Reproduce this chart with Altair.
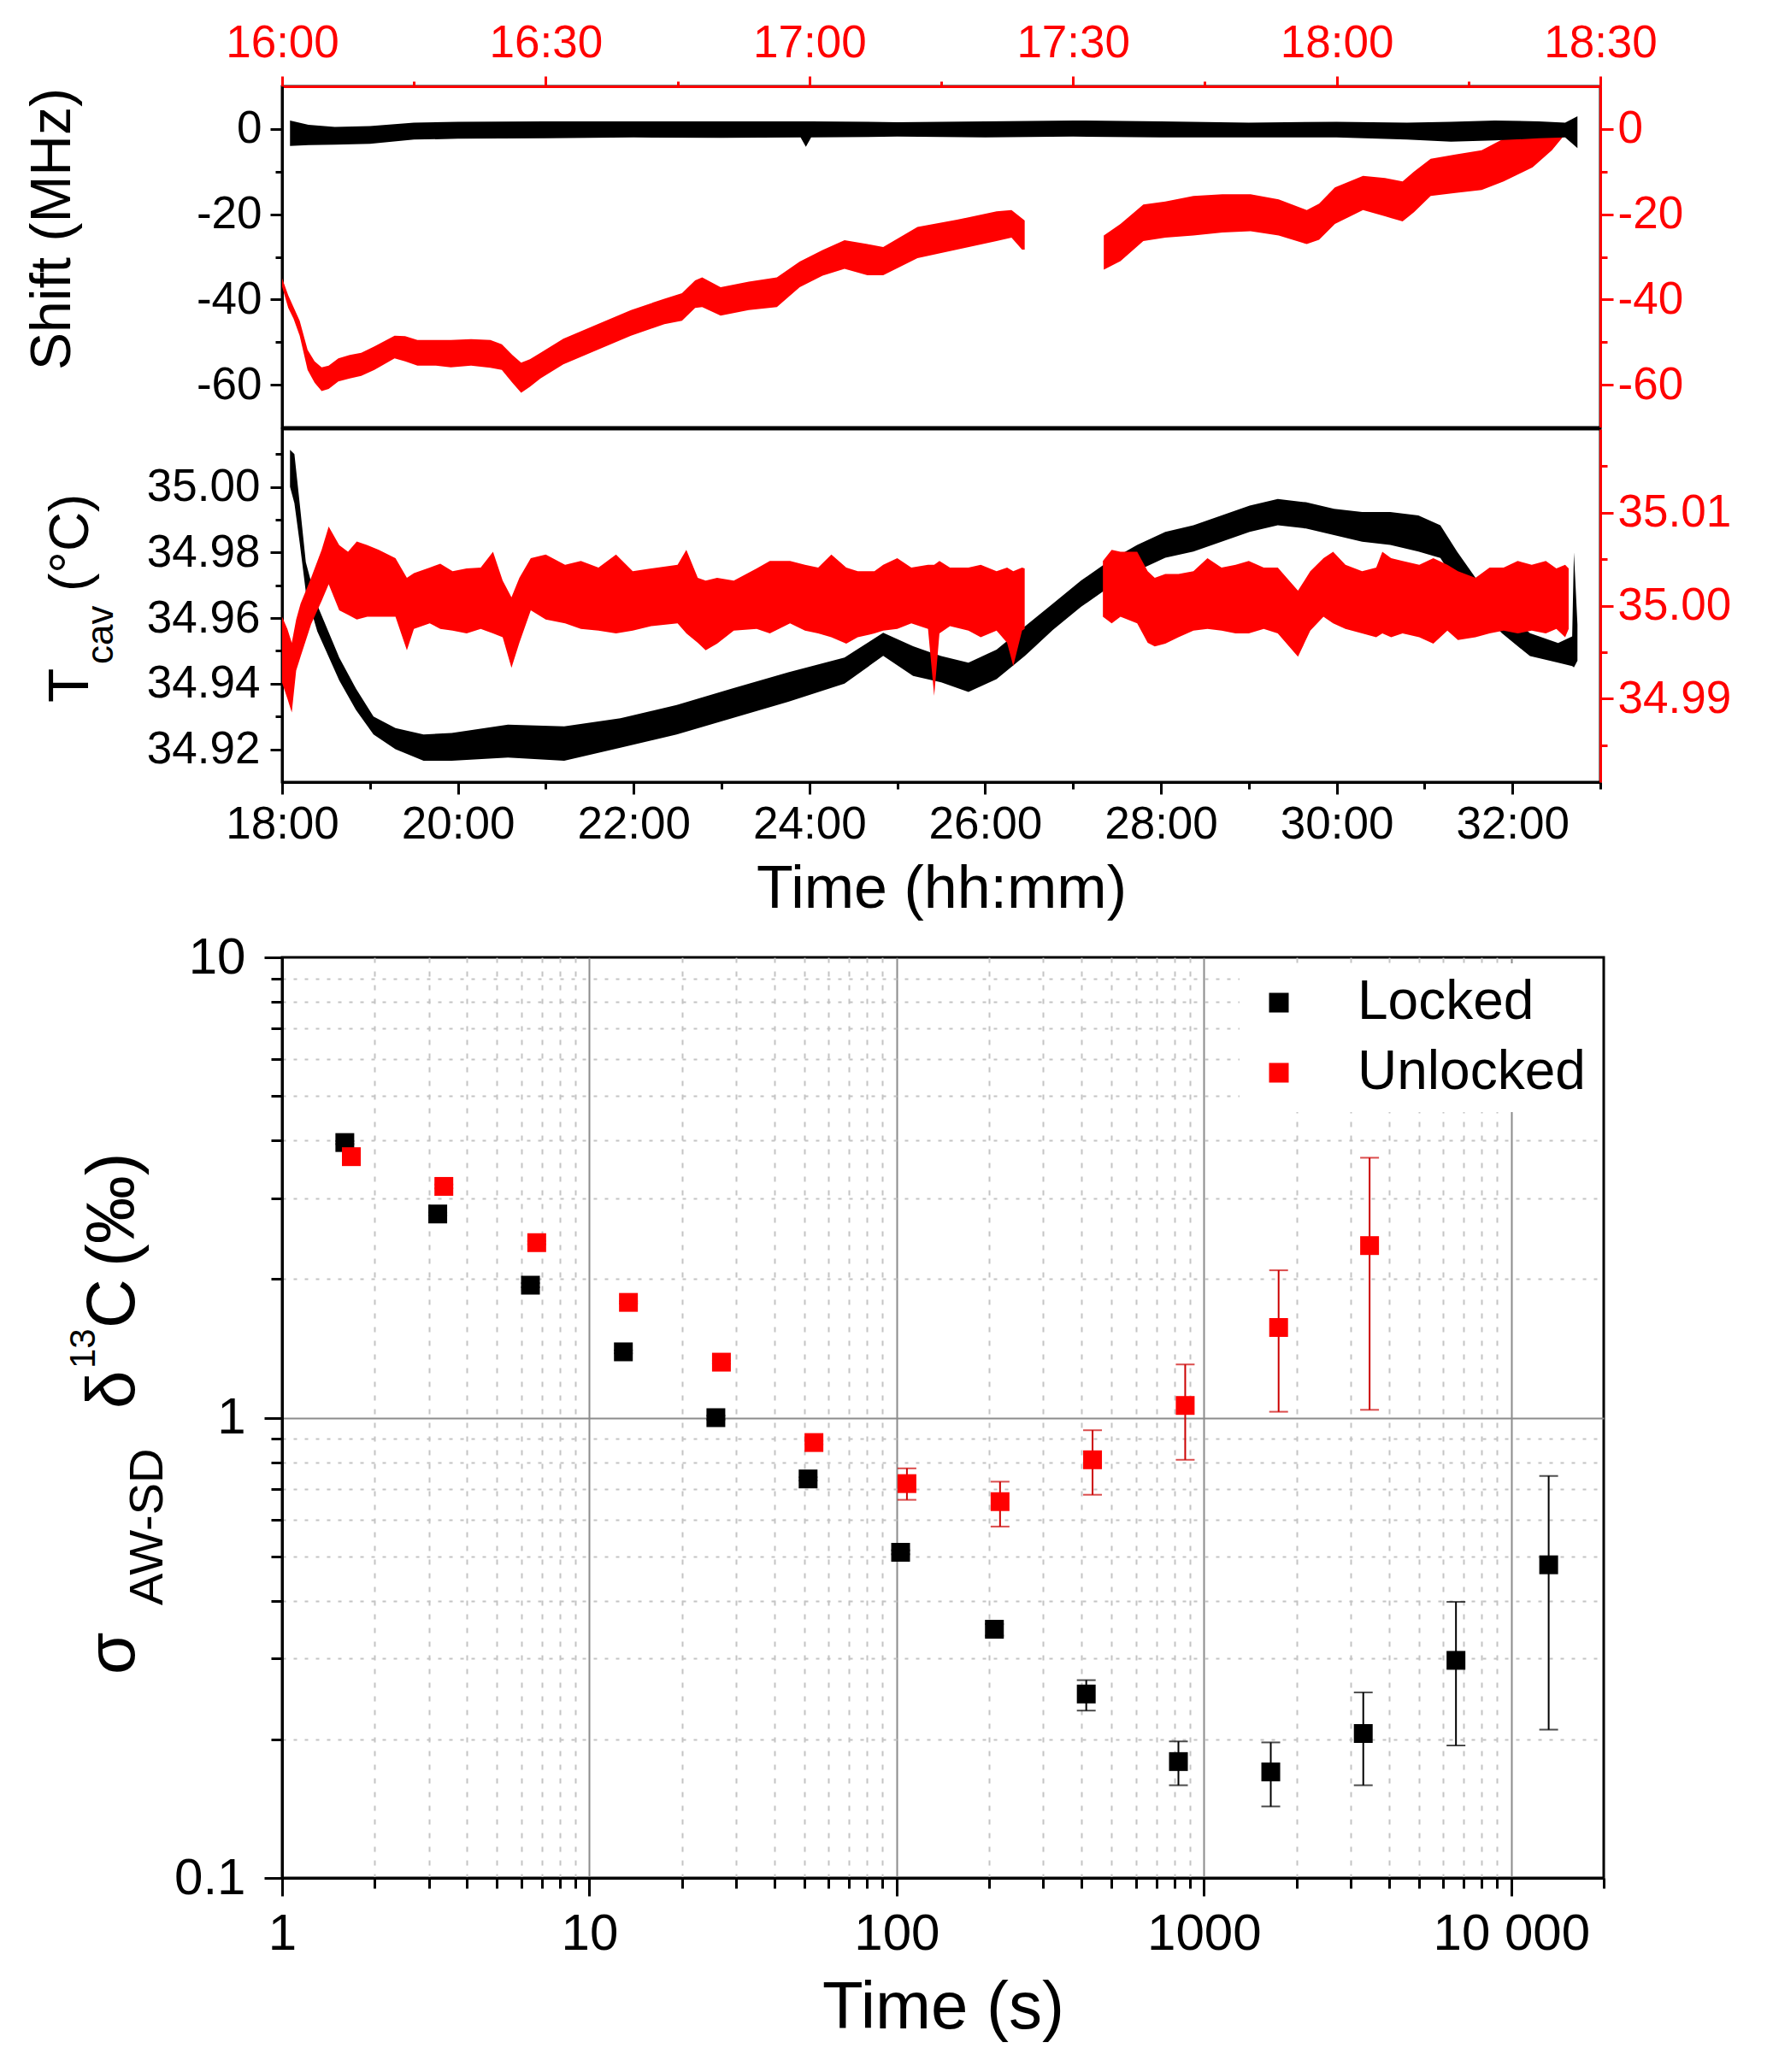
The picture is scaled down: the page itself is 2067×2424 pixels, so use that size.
import altair as alt
import pandas as pd

FONT = "Liberation Sans, Arial, sans-serif"
RED = "#ff0000"
RED_BAR = "#cc0000"

# ---------------- top panel: frequency shift (MHz) ----------------
# unlocked run (red): minutes after 16:00 on the red clock axis, band envelope
SHIFT_RED_A_MIN = [0, 0.7, 1.3, 2.0, 2.9, 3.7, 4.5, 5.3, 6.4, 7.7, 9.0, 10.5, 12.8, 14.0, 15.4,
                   17.5, 19.2, 21.5, 23.7, 25.0, 26.2, 27.2, 28.2, 29.4, 32.0, 35.9, 39.7, 43.5,
                   45.5, 47.0, 47.8, 49.9, 53.1, 56.3, 58.9, 61.5, 64.0, 66.6, 68.4, 72.3, 76.8,
                   81.3, 83.0, 84.2, 84.5]
SHIFT_RED_A_HI = [-35, -39, -41.8, -45, -51.8, -54.5, -55.9, -55.5, -53.8, -53, -52.5, -51,
                  -48.5, -48.6, -49.5, -49.5, -49.5, -49.3, -49.5, -50.5, -53, -54.8, -54, -52.5,
                  -49.2, -45.8, -42.5, -39.8, -38.5, -35.5, -34.8, -37.1, -35.8, -34.8, -31.1,
                  -28.4, -26.1, -27, -27.7, -23, -21.3, -19.3, -19, -21, -21.5]
SHIFT_RED_A_LO = [-37, -42, -44.5, -48.5, -56.5, -59.5, -61.5, -61, -59.2, -58.5, -57.9, -56.5,
                  -53.8, -54.5, -55.5, -55.5, -55.9, -55.5, -56, -56.5, -59.5, -61.9, -60.5,
                  -58.5, -55.2, -51.8, -48.5, -45.8, -45, -42, -41.8, -43.8, -42.5, -41.8, -37.1,
                  -34.4, -32.8, -34.3, -34.3, -30.3, -28.3, -26.3, -25.5, -28.3, -28.3]
SHIFT_RED_B_MIN = [93.5, 95.4, 98.0, 100.5, 103.7, 107.0, 110.2, 113.4, 116.6, 118.0, 119.8,
                   123.0, 125.5, 127.5, 128.8, 130.7, 133.5, 136.5, 139.0, 142.3, 144.5, 146.1]
SHIFT_RED_B_HI = [-25, -22.3, -17.7, -17, -15.7, -15.3, -15.3, -16.5, -19, -17.5, -13.7, -11,
                  -11.5, -12.3, -10, -7, -6, -5, -2.3, 0, 0, 0]
SHIFT_RED_B_LO = [-33, -31, -26.3, -25.5, -25, -24.3, -24, -25, -27, -26, -22.3, -19, -20.5,
                  -21.7, -19.5, -15.7, -15, -14.3, -12.3, -9, -5, -1]

# locked run (black): hours on the black axis
SHIFT_BLK_H = [18.09, 18.3, 18.6, 19.0, 19.5, 20.0, 21.0, 22.0, 23.0, 23.9, 23.96, 24.02, 25.0,
               26.0, 27.0, 28.0, 29.0, 30.0, 30.8, 31.3, 31.8, 32.3, 32.6, 32.74]
SHIFT_BLK_HI = [2.0, 1.0, 0.5, 0.7, 1.5, 1.7, 1.8, 1.8, 1.8, 1.8, 1.8, 1.8, 1.6, 1.8, 2.0, 1.8,
                1.5, 1.7, 1.5, 1.7, 2.0, 1.8, 1.5, 3.0]
SHIFT_BLK_LO = [-4.0, -3.8, -3.7, -3.5, -2.5, -2.3, -2.2, -2.0, -2.1, -2.0, -4.2, -2.0, -1.8,
                -2.0, -1.8, -2.0, -2.0, -2.0, -2.5, -3.0, -2.7, -2.2, -2.0, -4.5]

# ---------------- middle panel: cavity temperature (degC) ----------------
TEMP_BLK_H = [18.09, 18.14, 18.2, 18.27, 18.4, 18.65, 18.84, 19.04, 19.29, 19.61, 19.93, 20.57,
              21.21, 21.85, 22.49, 23.12, 23.76, 24.4, 24.84, 25.18, 25.5, 25.81, 26.13, 26.45,
              26.77, 27.09, 27.41, 27.73, 28.05, 28.37, 28.69, 29.01, 29.33, 29.65, 29.97, 30.29,
              30.61, 30.93, 31.18, 31.37, 31.63, 31.88, 32.2, 32.52, 32.68, 32.7, 32.74]
TEMP_BLK_HI = [35.0113, 35.010, 34.995, 34.977, 34.964, 34.948, 34.9385, 34.930, 34.9265,
               34.9245, 34.925, 34.9275, 34.927, 34.9295, 34.9335, 34.9385, 34.9435, 34.948,
               34.9555, 34.9514, 34.9484, 34.9464, 34.9504, 34.9574, 34.9644, 34.9714, 34.9774,
               34.9823, 34.9863, 34.9883, 34.9913, 34.9943, 34.9963, 34.9953, 34.9933, 34.9923,
               34.9923, 34.9913, 34.9883, 34.9803, 34.9704, 34.9624, 34.9554, 34.9524, 34.9544,
               34.980, 34.958]
TEMP_BLK_LO = [35.000, 34.995, 34.983, 34.968, 34.956, 34.941, 34.932, 34.9245, 34.920, 34.9165,
               34.9165, 34.9175, 34.9165, 34.9205, 34.9245, 34.9295, 34.9345, 34.940, 34.9485,
               34.9424, 34.9404, 34.9375, 34.9414, 34.9484, 34.9564, 34.9634, 34.9694, 34.9744,
               34.9784, 34.9803, 34.9833, 34.9863, 34.9883, 34.9873, 34.9853, 34.9833, 34.9823,
               34.9803, 34.9783, 34.9704, 34.9624, 34.9554, 34.9484, 34.9464, 34.9454, 34.945,
               34.947]

TEMP_RED_A_MIN = [0.0, 0.6, 1.1, 1.6, 2.1, 3.3, 4.5, 5.3, 6.5, 7.5, 8.5, 9.7, 11.0, 12.9, 14.2,
                  15.0, 16.8, 18.0, 19.4, 21.0, 22.6, 24.0, 25.1, 26.1, 27.0, 28.3, 30.0, 32.2,
                  34.0, 36.0, 38.0, 39.9, 42.0, 45.0, 46.0, 47.3, 48.2, 49.5, 51.4, 54.0, 55.5,
                  57.8, 59.5, 61.0, 62.5, 64.2, 65.5, 67.4, 68.4, 70.0, 71.6, 73.5, 74.2, 74.8,
                  76.0, 78.1, 79.5, 81.3, 82.5, 83.2, 84.2, 84.5]
TEMP_RED_A_LO = [34.9917, 34.9900, 34.9885, 34.9930, 34.9945, 34.9980, 35.0005, 35.0023, 34.9995,
                 34.9990, 34.9985, 34.9988, 34.9988, 34.9988, 34.9952, 34.9975, 34.9981, 34.9975,
                 34.9973, 34.9970, 34.9975, 34.9970, 34.9966, 34.9933, 34.9960, 34.9995, 34.9985,
                 34.9981, 34.9975, 34.9973, 34.9970, 34.9973, 34.9978, 34.9981, 34.9970, 34.9960,
                 34.9952, 34.9959, 34.9973, 34.9975, 34.9970, 34.9981, 34.9973, 34.9970, 34.9966,
                 34.9959, 34.9966, 34.9970, 34.9973, 34.9975, 34.9981, 34.9975, 34.9903, 34.9970,
                 34.9978, 34.9973, 34.9966, 34.9973, 34.9960, 34.9935, 34.9973, 34.9975]
TEMP_RED_A_HI = [34.9988, 34.9975, 34.9960, 34.9985, 35.0002, 35.0030, 35.0060, 35.0085, 35.0065,
                 35.0058, 35.0069, 35.0065, 35.0060, 35.0051, 35.0030, 35.0035, 35.0041, 35.0045,
                 35.0037, 35.0040, 35.0041, 35.0058, 35.0027, 35.0009, 35.0030, 35.0051, 35.0055,
                 35.0044, 35.0048, 35.0041, 35.0055, 35.0037, 35.0040, 35.0044, 35.0060, 35.0030,
                 35.0027, 35.0030, 35.0027, 35.0040, 35.0048, 35.0048, 35.0044, 35.0041, 35.0055,
                 35.0041, 35.0037, 35.0037, 35.0044, 35.0051, 35.0041, 35.0044, 35.0044, 35.0048,
                 35.0041, 35.0041, 35.0044, 35.0037, 35.0041, 35.0037, 35.0041, 35.0040]
TEMP_RED_B_MIN = [93.4, 94.4, 95.4, 97.3, 98.5, 99.3, 100.5, 102.0, 103.7, 105.3, 106.9, 108.5,
                  110.0, 111.7, 113.3, 115.6, 117.0, 118.5, 119.6, 121.0, 122.9, 124.5, 125.2,
                  126.2, 127.5, 129.4, 131.0, 132.6, 133.8, 135.8, 137.4, 139.0, 140.6, 142.2,
                  143.8, 145.0, 146.0, 146.4]
TEMP_RED_B_LO = [34.9988, 34.9981, 34.9988, 34.9981, 34.9960, 34.9956, 34.9959, 34.9966, 34.9973,
                 34.9975, 34.9973, 34.9970, 34.9970, 34.9975, 34.9970, 34.9945, 34.9973, 34.9988,
                 34.9981, 34.9975, 34.9970, 34.9966, 34.9970, 34.9966, 34.9970, 34.9966, 34.9959,
                 34.9973, 34.9963, 34.9966, 34.9970, 34.9973, 34.9970, 34.9973, 34.9970, 34.9975,
                 34.9966, 34.9975]
TEMP_RED_B_HI = [35.0048, 35.0060, 35.0058, 35.0058, 35.0037, 35.0030, 35.0034, 35.0034, 35.0037,
                 35.0051, 35.0041, 35.0044, 35.0048, 35.0041, 35.0041, 35.0016, 35.0037, 35.0051,
                 35.0058, 35.0044, 35.0037, 35.0041, 35.0058, 35.0051, 35.0048, 35.0044, 35.0051,
                 35.0044, 35.0037, 35.0030, 35.0041, 35.0041, 35.0048, 35.0044, 35.0048, 35.0040,
                 35.0044, 35.0040]

# ---------------- bottom panel: Allan-Werle deviation ----------------
LOCK_TAU = [1.60, 3.21, 6.43, 12.9, 25.8, 51.5, 103, 208, 414, 826, 1650, 3300, 6610, 13240]
LOCK_SIG = [3.96, 2.77, 1.94, 1.39, 1.00, 0.736, 0.510, 0.347, 0.251, 0.179, 0.170, 0.206, 0.297, 0.479]
LOCK_LO = [3.93, 2.75, 1.92, 1.38, 0.99, 0.730, 0.505, 0.336, 0.231, 0.159, 0.143, 0.159, 0.194, 0.210]
LOCK_HI = [3.99, 2.79, 1.96, 1.40, 1.01, 0.742, 0.515, 0.356, 0.269, 0.198, 0.197, 0.253, 0.398, 0.747]
UNLOCK_TAU = [1.68, 3.36, 6.74, 13.4, 26.9, 53.8, 108, 217, 434, 869, 1750, 3460]
UNLOCK_SIG = [3.69, 3.18, 2.40, 1.78, 1.32, 0.883, 0.719, 0.657, 0.810, 1.063, 1.57, 2.365]
UNLOCK_LO = [3.66, 3.15, 2.38, 1.77, 1.31, 0.875, 0.663, 0.580, 0.680, 0.810, 1.03, 1.04]
UNLOCK_HI = [3.72, 3.21, 2.42, 1.79, 1.33, 0.891, 0.776, 0.726, 0.939, 1.305, 2.09, 3.67]
SERIES = ["Locked", "Unlocked"]

# tick positions
MIN_TICKS = [0, 15, 30, 45, 60, 75, 90, 105, 120, 135, 150]
HOUR_TICKS = list(range(18, 34))
SHIFT_TICKS = [-60, -50, -40, -30, -20, -10, 0]
TEMP_L_TICKS = [34.92, 34.93, 34.94, 34.95, 34.96, 34.97, 34.98, 34.99, 35.0, 35.01]
TEMP_R_TICKS = [34.985, 34.99, 34.995, 35.0, 35.005, 35.01, 35.015]
TAU_TICKS = [1, 2, 3, 4, 5, 6, 7, 8, 9, 10, 20, 30, 40, 50, 60, 70, 80, 90, 100, 200, 300, 400,
             500, 600, 700, 800, 900, 1000, 2000, 3000, 4000, 5000, 6000, 7000, 8000, 9000,
             10000, 20000]
SIG_TICKS = [0.1, 0.2, 0.3, 0.4, 0.5, 0.6, 0.7, 0.8, 0.9, 1, 2, 3, 4, 5, 6, 7, 8, 9, 10]


def cond(test, major, minor):
    return {"condition": {"test": test, "value": major}, "value": minor}


def guide(color, values, test, label_expr, major, minor, pad, size=53, **extra):
    return alt.Axis(
        values=values,
        labelExpr=label_expr,
        tickSize=cond(test, major, minor),
        tickWidth=3,
        tickColor=color,
        domainColor=color,
        domainWidth=3,
        labelColor=color,
        labelFontSize=size,
        labelPadding=pad,
        labelFlush=False,
        labelOverlap=False,
        labelLimit=400,
        **extra,
    )


def rotated(label, x, y, size):
    return (
        alt.Chart(pd.DataFrame({"t": [label]}))
        .mark_text(angle=270, align="left", baseline="alphabetic", fontSize=size, font=FONT, color="black")
        .encode(x=alt.value(x), y=alt.value(y), text="t:N")
    )


def band(xs, los, his, seg):
    return pd.DataFrame({"x": xs, "lo": los, "hi": his, "seg": seg})


def top_panel():
    red = pd.concat([
        band(SHIFT_RED_A_MIN, SHIFT_RED_A_LO, SHIFT_RED_A_HI, "a"),
        band(SHIFT_RED_B_MIN, SHIFT_RED_B_LO, SHIFT_RED_B_HI, "b"),
    ])
    blk = band(SHIFT_BLK_H, SHIFT_BLK_LO, SHIFT_BLK_HI, "a")
    test = "datum.value % 20 == 0"
    label = f"{test} ? toString(datum.value) : ''"
    y_scale = alt.Scale(domain=[-70, 10], nice=False, zero=False)

    red_area = alt.Chart(red).mark_area(color=RED).encode(
        x=alt.X("x:Q", scale=alt.Scale(domain=[0, 150], nice=False, zero=False),
                axis=guide(RED, MIN_TICKS, "datum.value % 30 == 0",
                           "datum.value % 30 == 0 ? (floor(datum.value / 60) + 16) + ':' + "
                           "(datum.value % 60 == 0 ? '00' : '30') : ''",
                           12, 6, 12, orient="top", title=None, grid=False)),
        y=alt.Y("lo:Q", scale=y_scale,
                axis=guide(RED, SHIFT_TICKS, test, label, 15, 8, 5, orient="right", title=None, grid=False)),
        y2="hi:Q",
        detail="seg:N",
    )
    blk_area = alt.Chart(blk).mark_area(color="black").encode(
        x=alt.X("x:Q", scale=alt.Scale(domain=[18, 33], nice=False, zero=False), axis=None),
        y=alt.Y("lo:Q", scale=y_scale,
                axis=guide("black", SHIFT_TICKS, test, label, 14, 8, 10, orient="left", title=None, grid=False)),
        y2="hi:Q",
    )
    return (
        alt.layer(red_area, blk_area, rotated("Shift (MHz)", -248, 332, 66))
        .resolve_scale(x="independent", y="independent")
        .properties(width=1542, height=399)
    )


def middle_panel():
    red = pd.concat([
        band(TEMP_RED_A_MIN, TEMP_RED_A_LO, TEMP_RED_A_HI, "a"),
        band(TEMP_RED_B_MIN, TEMP_RED_B_LO, TEMP_RED_B_HI, "b"),
    ])
    blk = band(TEMP_BLK_H, TEMP_BLK_LO, TEMP_BLK_HI, "a")
    l_test = "round(datum.value * 100) % 2 == 0"
    r_test = "round(datum.value * 1000) % 10 == 0"

    blk_area = alt.Chart(blk).mark_area(color="black").encode(
        x=alt.X("x:Q", scale=alt.Scale(domain=[18, 33], nice=False, zero=False),
                axis=guide("black", HOUR_TICKS, "datum.value % 2 == 0",
                           "datum.value % 2 == 0 ? datum.value + ':00' : ''",
                           14, 8, 9, orient="bottom", grid=False, title="Time (hh:mm)",
                           titleFontSize=70, titleFontWeight="normal", titleColor="black",
                           titlePadding=15, titleFont=FONT)),
        y=alt.Y("lo:Q", scale=alt.Scale(domain=[34.91, 35.0176], nice=False, zero=False),
                axis=guide("black", TEMP_L_TICKS, l_test,
                           f"{l_test} ? format(datum.value, '.2f') : ''",
                           14, 8, 12, orient="left", title=None, grid=False)),
        y2="hi:Q",
    )
    red_area = alt.Chart(red).mark_area(color=RED).encode(
        x=alt.X("x:Q", scale=alt.Scale(domain=[0, 150], nice=False, zero=False), axis=None),
        y=alt.Y("lo:Q", scale=alt.Scale(domain=[34.981, 35.019], nice=False, zero=False),
                axis=guide(RED, TEMP_R_TICKS, r_test,
                           f"{r_test} ? format(datum.value, '.2f') : ''",
                           15, 8, 5, orient="right", title=None, grid=False)),
        y2="hi:Q",
        detail="seg:N",
    )
    return (
        alt.layer(
            blk_area, red_area,
            rotated("T", -227, 320, 66),
            rotated("cav", -198, 275, 44),
            rotated("(°C)", -227, 190, 64),
        )
        .resolve_scale(x="independent", y="independent")
        .properties(width=1542, height=413)
    )


def bottom_panel():
    pts = pd.concat([
        pd.DataFrame({"tau": LOCK_TAU, "sig": LOCK_SIG, "lo": LOCK_LO, "hi": LOCK_HI, "run": SERIES[0]}),
        pd.DataFrame({"tau": UNLOCK_TAU, "sig": UNLOCK_SIG, "lo": UNLOCK_LO, "hi": UNLOCK_HI, "run": SERIES[1]}),
    ])
    x_major = "indexof([1, 10, 100, 1000, 10000], datum.value) >= 0"
    y_major = "indexof([0.1, 1, 10], datum.value) >= 0"
    x_axis = guide(
        "black", TAU_TICKS, x_major,
        "datum.value == 10000 ? '10 000' : (indexof([1, 10, 100, 1000], datum.value) >= 0 ? toString(datum.value) : '')",
        21, 12, 15, size=60, orient="bottom", grid=True,
        gridColor=cond(x_major, "#8c8c8c", "#c4c4c4"), gridDash=cond(x_major, [], [6, 10]), gridWidth=2,
        gridOpacity=cond("datum.value == 20000", 0, 1),
        title="Time (s)", titleFontSize=78, titleFontWeight="normal", titleColor="black",
        titlePadding=18, titleFont=FONT,
    )
    y_axis = guide(
        "black", SIG_TICKS, y_major, f"{y_major} ? toString(datum.value) : ''",
        21, 13, 22, size=60, orient="left", grid=True, title=None,
        gridColor=cond(y_major, "#8c8c8c", "#c4c4c4"), gridDash=cond(y_major, [], [4, 9]), gridWidth=2,
        gridOpacity=cond("datum.value == 10", 0, 1),
    )
    x = alt.X("tau:Q", scale=alt.Scale(type="log", domain=[1, 20000], nice=False), axis=x_axis)

    def y(field):
        return alt.Y(f"{field}:Q", scale=alt.Scale(type="log", domain=[0.1, 10], nice=False), axis=y_axis)

    layers = []
    for run, col in [(SERIES[1], RED_BAR), (SERIES[0], "black")]:
        base = alt.Chart(pts[pts["run"] == run])
        layers.append(base.mark_rule(color=col, strokeWidth=2).encode(x=x, y=y("lo"), y2="hi:Q"))
        layers.append(base.mark_tick(color=col, orient="horizontal", size=22, thickness=2).encode(x=x, y=y("lo")))
        layers.append(base.mark_tick(color=col, orient="horizontal", size=22, thickness=2).encode(x=x, y=y("hi")))

    squares = alt.Chart(pts).mark_square(size=484, opacity=1).encode(
        x=x, y=y("sig"),
        color=alt.Color(
            "run:N",
            scale=alt.Scale(domain=SERIES, range=["#000000", RED]),
            legend=alt.Legend(
                title=None, orient="top-right", offset=7, padding=14, fillColor="white",
                labelFontSize=64, labelFont=FONT, labelColor="black", labelLimit=300,
                symbolSize=529, symbolType="square", symbolOffset=0, labelOffset=60,
                rowPadding=18, symbolStrokeWidth=0,
            ),
        ),
    )
    # invisible rule that sets the gap above this panel
    spacer = alt.Chart(pd.DataFrame({"t": [0]})).mark_rule(strokeOpacity=0, color="white").encode(
        x=alt.value(0), x2=alt.value(10), y=alt.value(-44), y2=alt.value(-44)
    )
    title_parts = [
        rotated("σ", -173, 839, 80),
        rotated("AW-SD", -140, 758, 56),
        rotated("δ", -173, 528, 80),
        rotated("13", -219, 481, 42),
        rotated("C", -173, 434, 80),
        rotated("(‰)", -173, 362, 80),
    ]
    return alt.layer(*layers, squares, spacer, *title_parts).properties(width=1546, height=1077)


chart = (
    alt.vconcat(top_panel(), middle_panel(), bottom_panel(), spacing=-3)
    .resolve_scale(color="independent")
    .resolve_legend(color="independent")
    .properties(padding={"left": 19, "top": 14, "right": 5, "bottom": 5}, background="white")
    .configure_view(stroke="black", strokeWidth=3)
    .configure_axis(labelFont=FONT, titleFont=FONT)
    .configure_legend(labelFont=FONT)
)

chart.save("out.html", embed_options={"renderer": "svg", "actions": False})
